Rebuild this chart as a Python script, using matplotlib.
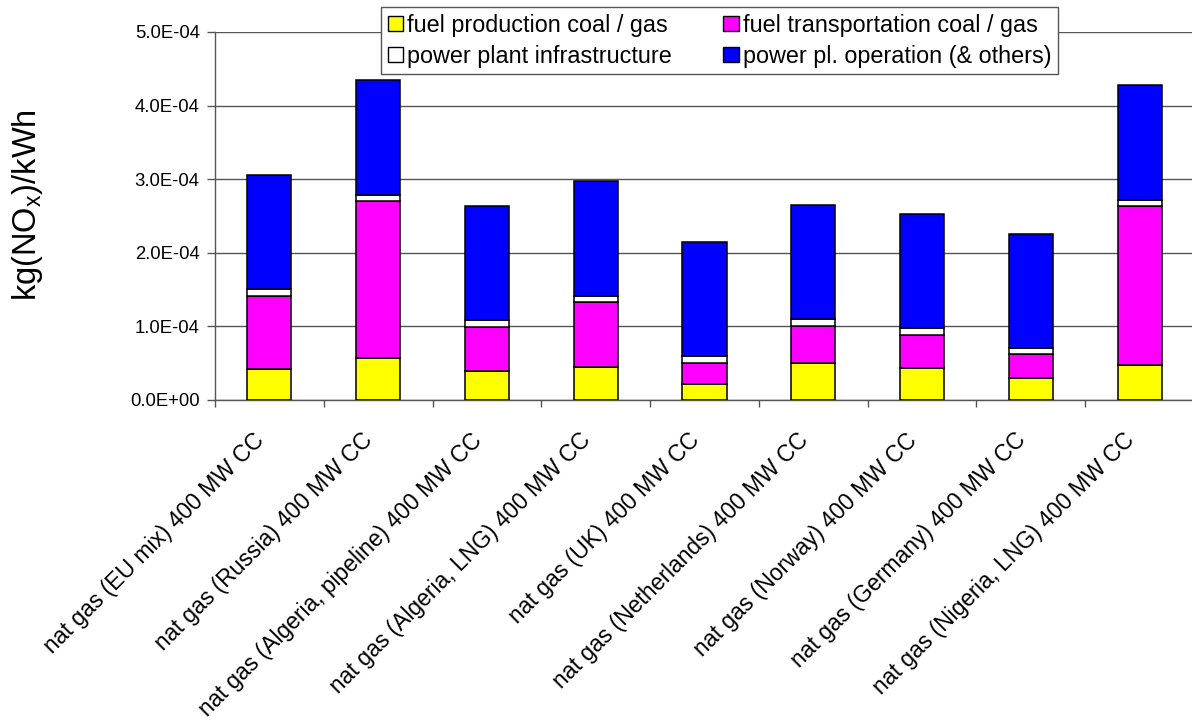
import matplotlib
matplotlib.use("Agg")
import matplotlib.pyplot as plt
from matplotlib.patches import Patch
from matplotlib.ticker import FuncFormatter, MultipleLocator
from matplotlib.transforms import ScaledTranslation
import numpy as np

plt.rcParams['font.family'] = ['Liberation Sans', 'DejaVu Sans']
plt.rcParams['mathtext.fontset'] = 'custom'
plt.rcParams['mathtext.rm'] = 'Liberation Sans'

categories = [
    "nat gas (EU mix) 400 MW CC",
    "nat gas (Russia) 400 MW CC",
    "nat gas (Algeria, pipeline) 400 MW CC",
    "nat gas (Algeria, LNG) 400 MW CC",
    "nat gas (UK) 400 MW CC",
    "nat gas (Netherlands) 400 MW CC",
    "nat gas (Norway) 400 MW CC",
    "nat gas (Germany) 400 MW CC",
    "nat gas (Nigeria, LNG) 400 MW CC",
]

# kg NOx per kWh, by life-cycle stage
fuel_production = [0.425e-4, 0.566e-4, 0.393e-4, 0.448e-4, 0.221e-4, 0.506e-4, 0.430e-4, 0.299e-4, 0.475e-4]
fuel_transport = [0.986e-4, 2.134e-4, 0.602e-4, 0.886e-4, 0.285e-4, 0.498e-4, 0.456e-4, 0.321e-4, 2.157e-4]
plant_infrastructure = [0.091e-4, 0.091e-4, 0.090e-4, 0.077e-4, 0.091e-4, 0.091e-4, 0.087e-4, 0.086e-4, 0.082e-4]
plant_operation = [1.560e-4, 1.551e-4, 1.556e-4, 1.570e-4, 1.556e-4, 1.555e-4, 1.555e-4, 1.556e-4, 1.565e-4]

series = [
    ("fuel production coal / gas", fuel_production, "#FFFF00"),
    ("fuel transportation coal / gas", fuel_transport, "#FF00FF"),
    ("power plant infrastructure", plant_infrastructure, "#FFFFFF"),
    ("power pl. operation (& others)", plant_operation, "#0000FF"),
]

W, H = 1192, 720
fig = plt.figure(figsize=(W / 100, H / 100), dpi=100)
ax = fig.add_axes([215 / W, 1 - 400 / H, (1194 - 215) / W, (400 - 32) / H])

x = np.arange(len(categories))
bottom = np.zeros(len(categories))
handles = {}
for label, vals, color in series:
    vals = np.array(vals)
    ax.bar(x, vals, width=0.405, bottom=bottom, color=color,
           edgecolor="black", linewidth=1.1, zorder=3)
    handles[label] = Patch(facecolor=color, edgecolor="black", linewidth=1.0)
    bottom += vals

ax.set_xlim(-0.5, len(categories) - 0.5)
ax.set_ylim(0, 5e-4)
ax.yaxis.set_major_locator(MultipleLocator(1e-4))
ax.yaxis.set_major_formatter(FuncFormatter(lambda v, p: f"{v:.1E}"))
ax.grid(axis="y", color="#555555", linewidth=1.0, zorder=0)

# category boundaries carry the x ticks, labels sit under bar centres
ax.set_xticks(np.arange(len(categories) + 1) - 0.5)
ax.set_xticklabels([])
ax.tick_params(axis="x", length=5, width=1, color="#555555")
ax.set_xticks(x, minor=True)
ax.set_xticklabels(categories, minor=True, rotation=45, ha="right",
                   rotation_mode="anchor", fontsize=16.5)
ax.tick_params(axis="x", which="minor", length=0, pad=12)
shift = ScaledTranslation(-0.17, -0.12, fig.dpi_scale_trans)
for lbl in ax.get_xticklabels(minor=True):
    lbl.set_transform(lbl.get_transform() + shift)
ax.tick_params(axis="y", length=6, width=1, color="#555555", labelsize=13.3, pad=5)

for s in ["top", "right"]:
    ax.spines[s].set_visible(False)
for s in ["left", "bottom"]:
    ax.spines[s].set_color("#555555")
    ax.spines[s].set_linewidth(1.0)

fig.text(28 / W, 1 - 205 / H, r"kg(NO$_\mathregular{x}$)/kWh", rotation=90,
         ha="center", va="center", fontsize=23.5)

order = ["fuel production coal / gas", "power plant infrastructure",
         "fuel transportation coal / gas", "power pl. operation (& others)"]
leg = fig.legend([handles[k] for k in order], order, ncol=2,
                 loc="upper left", bbox_to_anchor=(381 / W, 1 - 7 / H),
                 bbox_transform=fig.transFigure, borderaxespad=0,
                 fontsize=16.8, handlelength=0.65, handleheight=0.65,
                 handletextpad=0.2, columnspacing=2.2, labelspacing=0.35,
                 borderpad=0.28, fancybox=False, framealpha=1,
                 edgecolor="#555555")
leg.get_frame().set_linewidth(1.0)

fig.savefig("out.png", dpi=100)
